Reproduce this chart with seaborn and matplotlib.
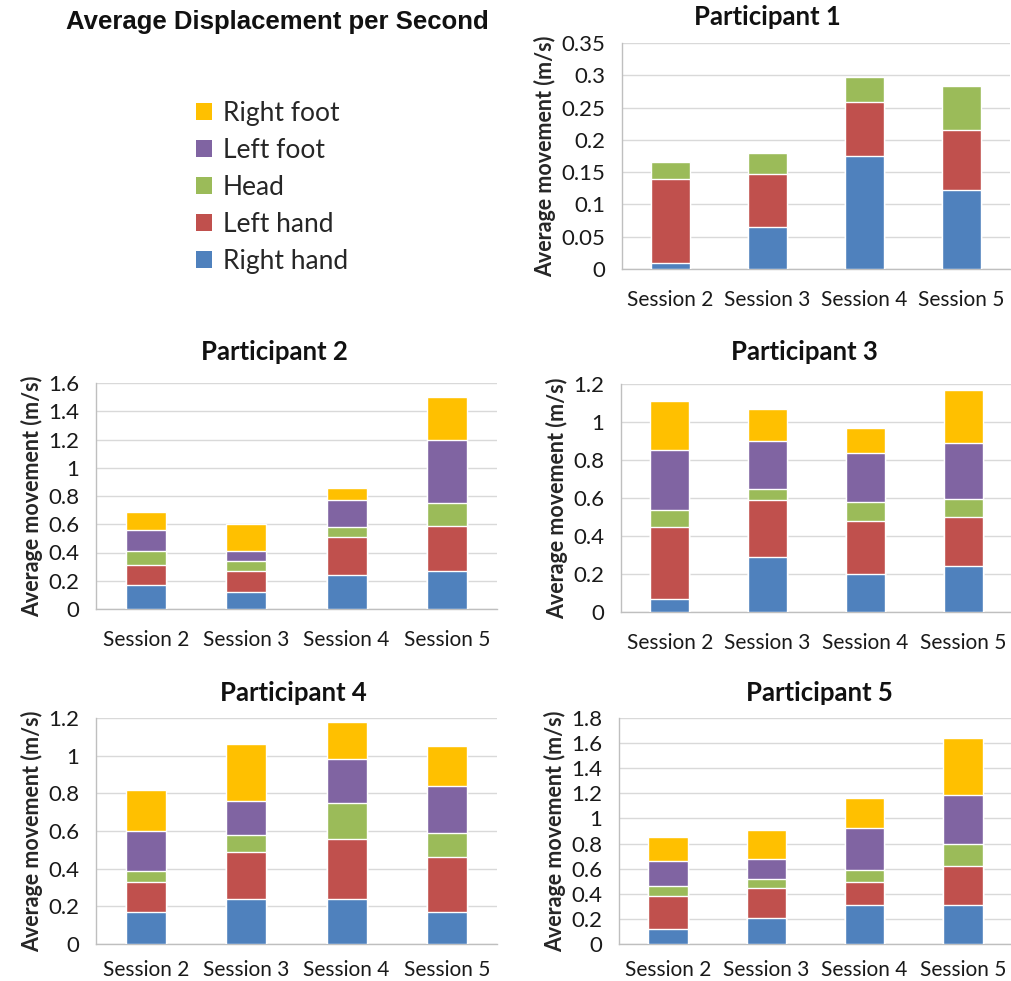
import numpy as np
import pandas as pd
import matplotlib
matplotlib.use("Agg")
import matplotlib.pyplot as plt
from matplotlib.patches import Patch
from matplotlib.ticker import FuncFormatter, FixedLocator
import seaborn as sns

sessions = ["Session 2", "Session 3", "Session 4", "Session 5"]
parts = ["Right hand", "Left hand", "Head", "Left foot", "Right foot"]
colors = ["#4F81BD", "#C0504D", "#9BBB59", "#8064A2", "#FFC000"]

# segment values per body part (m/s), order: Session 2..5
p1_right_hand = [0.010, 0.065, 0.175, 0.122]
p1_left_hand = [0.130, 0.082, 0.083, 0.093]
p1_head = [0.025, 0.033, 0.040, 0.068]
p1_left_foot = [0.0, 0.0, 0.0, 0.0]
p1_right_foot = [0.0, 0.0, 0.0, 0.0]

p2_right_hand = [0.17, 0.12, 0.24, 0.27]
p2_left_hand = [0.14, 0.15, 0.27, 0.32]
p2_head = [0.10, 0.07, 0.07, 0.16]
p2_left_foot = [0.15, 0.07, 0.19, 0.45]
p2_right_foot = [0.13, 0.19, 0.09, 0.30]

p3_right_hand = [0.07, 0.29, 0.20, 0.24]
p3_left_hand = [0.38, 0.30, 0.28, 0.26]
p3_head = [0.085, 0.06, 0.10, 0.095]
p3_left_foot = [0.32, 0.25, 0.255, 0.295]
p3_right_foot = [0.255, 0.17, 0.135, 0.28]

p4_right_hand = [0.17, 0.24, 0.24, 0.17]
p4_left_hand = [0.16, 0.25, 0.32, 0.29]
p4_head = [0.06, 0.09, 0.19, 0.13]
p4_left_foot = [0.21, 0.18, 0.23, 0.25]
p4_right_foot = [0.22, 0.30, 0.20, 0.21]

p5_right_hand = [0.12, 0.21, 0.31, 0.31]
p5_left_hand = [0.26, 0.24, 0.18, 0.31]
p5_head = [0.08, 0.07, 0.10, 0.18]
p5_left_foot = [0.20, 0.16, 0.33, 0.39]
p5_right_foot = [0.19, 0.23, 0.24, 0.45]

titles = ["Participant 1", "Participant 2", "Participant 3", "Participant 4", "Participant 5"]
y_max = [0.35, 1.6, 1.2, 1.2, 1.8]
y_step = [0.05, 0.2, 0.2, 0.2, 0.2]

data = [
    [p1_right_hand, p1_left_hand, p1_head, p1_left_foot, p1_right_foot],
    [p2_right_hand, p2_left_hand, p2_head, p2_left_foot, p2_right_foot],
    [p3_right_hand, p3_left_hand, p3_head, p3_left_foot, p3_right_foot],
    [p4_right_hand, p4_left_hand, p4_head, p4_left_foot, p4_right_foot],
    [p5_right_hand, p5_left_hand, p5_head, p5_left_foot, p5_right_foot],
]

sns.set_theme(style="white")
plt.rcParams["font.family"] = ["Lato", "DejaVu Sans"]

W, H = 1012, 981
fig = plt.figure(figsize=(W / 100, H / 100), dpi=100)

# axes rectangles in pixels: left, top(y max), right, bottom(y zero)
rects_px = [
    (622, 43, 1010, 269),
    (96, 383, 497, 609),
    (621, 384, 1012, 612),
    (96, 718, 497, 944),
    (619, 718, 1012, 944),
]
xpads = [15, 15, 15, 11.5, 11.5]
title_pos = [(0.374, 1.115), (0.446, 1.137), (0.468, 1.14), (0.491, 1.11), (0.51, 1.11)]

for i in range(5):
    l, t, r, b = rects_px[i]
    ax = fig.add_axes([l / W, 1 - b / H, (r - l) / W, (b - t) / H])
    cum = np.cumsum(np.array(data[i]), axis=0)
    # draw from top layer down so lower layers cover the upper cumulative bars
    for k in range(4, -1, -1):
        if np.allclose(np.array(data[i][k]), 0):
            continue
        df = pd.DataFrame({"session": sessions, "value": cum[k]})
        sns.barplot(data=df, x="session", y="value", color=colors[k],
                    saturation=1, width=0.4, ax=ax, zorder=3, errorbar=None)
    ax.set_ylim(0, y_max[i])
    ax.set_xlim(-0.5, 3.5)
    ticks = np.round(np.arange(0, y_max[i] + 1e-9, y_step[i]), 4)
    ax.set_yticks(ticks)
    ax.yaxis.set_major_formatter(FuncFormatter(lambda v, p: "0" if abs(v) < 1e-9 else ("%g" % round(v, 4))))
    ax.yaxis.grid(True, color="#d9d9d9", linewidth=1.0, zorder=0)
    ax.set_axisbelow(True)
    for s in ["top", "right"]:
        ax.spines[s].set_visible(False)
    for s in ["left", "bottom"]:
        ax.spines[s].set_color("#bfbfbf")
        ax.spines[s].set_linewidth(1.0)
    ax.tick_params(axis="y", length=0, pad=12, labelsize=16, labelcolor="#1a1a1a")
    ax.tick_params(axis="x", which="major", length=0, pad=xpads[i], labelsize=15, labelcolor="#1a1a1a")
    ax.xaxis.set_minor_locator(FixedLocator([-0.5, 0.5, 1.5, 2.5, 3.5]))
    ax.tick_params(axis="x", which="minor", length=5, width=1, color="#bfbfbf", direction="out")
    ax.set_xlabel("")
    ax.set_ylabel("Average movement (m/s)", fontsize=15.5, fontweight="bold", labelpad=4)
    tx, ty = title_pos[i]
    ax.text(tx, ty, titles[i], transform=ax.transAxes, ha="center", va="center",
            fontsize=18.5, fontweight="bold", color="#111111")

fig.text(277 / W, 1 - 22 / H, "Average Displacement per Second", ha="center", va="center",
         fontsize=18.5, fontweight="bold", family=["Liberation Sans", "DejaVu Sans"], color="#111111")

handles = [Patch(facecolor=colors[k], edgecolor="none") for k in range(4, -1, -1)]
labels = [parts[k] for k in range(4, -1, -1)]
fig.legend(handles, labels, loc="upper left", bbox_to_anchor=(196 / W, 1 - 101 / H),
           frameon=False, fontsize=19, handlelength=0.62, handleheight=0.62,
           handletextpad=0.4, labelspacing=0.45, borderaxespad=0, borderpad=0)

fig.savefig("out.png", dpi=100, facecolor="white")
